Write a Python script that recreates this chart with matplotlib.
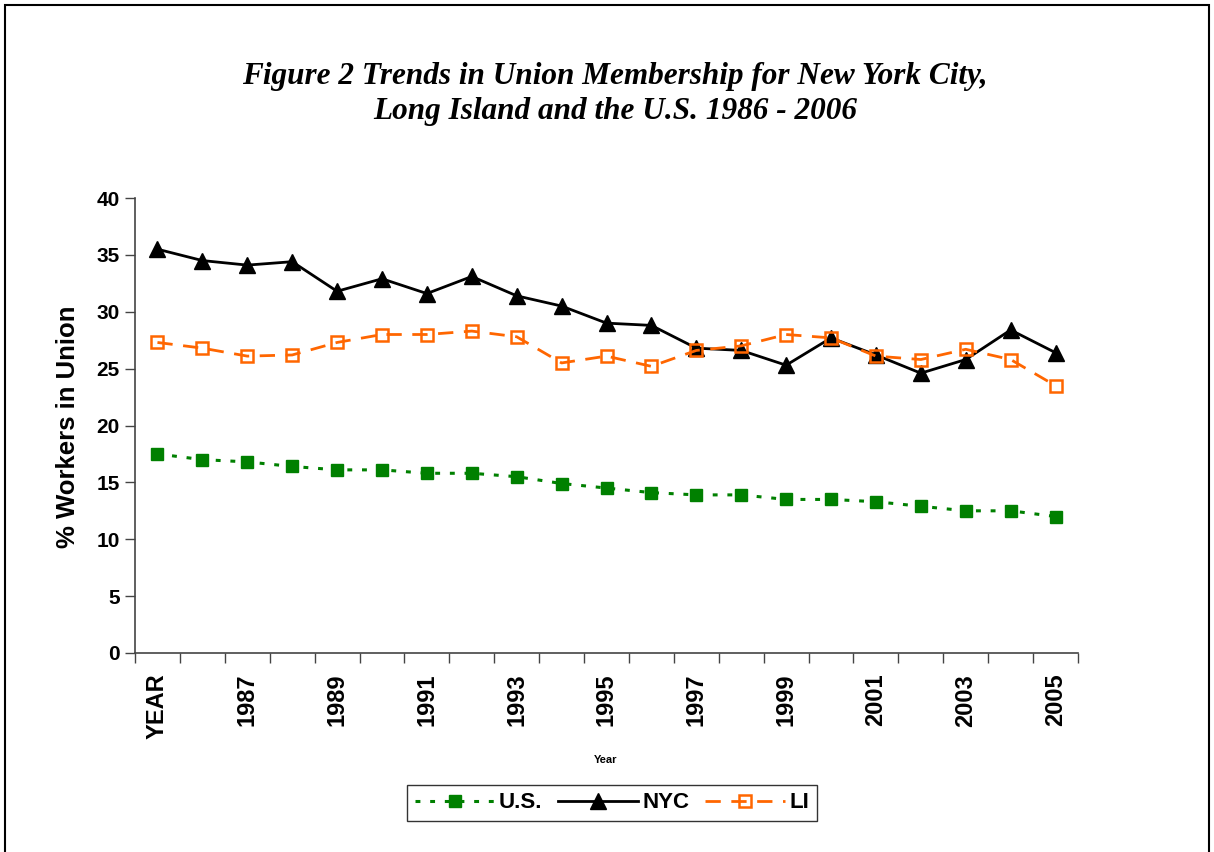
import matplotlib
matplotlib.use("Agg")
import matplotlib.pyplot as plt
from matplotlib.patches import Rectangle

categories = ['YEAR', '1986', '1987', '1988', '1989', '1990', '1991', '1992', '1993', '1994',
              '1995', '1996', '1997', '1998', '1999', '2000', '2001', '2002', '2003', '2004', '2005']
us = [17.5, 17.0, 16.8, 16.4, 16.1, 16.1, 15.8, 15.8, 15.5, 14.9, 14.5,
      14.1, 13.9, 13.9, 13.5, 13.5, 13.3, 12.9, 12.5, 12.5, 12.0]
nyc = [35.5, 34.5, 34.1, 34.4, 31.8, 32.9, 31.6, 33.1, 31.4, 30.5, 29.0,
       28.8, 26.8, 26.6, 25.3, 27.7, 26.2, 24.6, 25.8, 28.4, 26.4]
li = [27.3, 26.8, 26.1, 26.2, 27.3, 28.0, 28.0, 28.3, 27.8, 25.5, 26.1,
      25.2, 26.6, 27.0, 28.0, 27.7, 26.1, 25.8, 26.7, 25.8, 23.5]

title = "Figure 2 Trends in Union Membership for New York City,\nLong Island and the U.S. 1986 - 2006"
sans = ['Liberation Sans', 'DejaVu Sans']

fig = plt.figure(figsize=(12.14, 8.52), dpi=100)
fig.patch.set_facecolor('white')
ax = fig.add_axes([135/1214, 1-653/852, (1078-135)/1214, (653-198)/852])

x = list(range(len(categories)))
ax.plot(x, us, color='#008000', lw=2.2, linestyle=(0, (1.6, 3.2)), marker='s', ms=8.5,
        mfc='#008000', mec='#008000', label='U.S.', zorder=3)
ax.plot(x, nyc, color='black', lw=2.0, linestyle='-', marker='^', ms=11,
        mfc='black', mec='black', label='NYC', zorder=4)
ax.plot(x, li, color='#FF6600', lw=2.0, linestyle=(0, (5.5, 3.8)), marker='s', ms=8.5,
        mfc='none', mec='#FF6600', mew=1.8, label='LI', zorder=5)

ax.set_xlim(-0.5, len(categories) - 0.5)
ax.set_ylim(0, 40)
ax.set_yticks(range(0, 41, 5))
ax.set_yticklabels([str(v) for v in range(0, 41, 5)], fontsize=15, fontweight='bold', family=sans)
ax.tick_params(axis='y', direction='out', length=7, width=1, color='#444444', pad=4)

major = list(range(0, len(categories), 2))
ax.set_xticks(major)
ax.set_xticklabels([categories[i] for i in major], rotation=90, fontsize=17,
                   fontweight='bold', family=sans)
ax.tick_params(axis='x', which='major', length=0, pad=15)
ax.set_xticks([i - 0.5 for i in range(len(categories) + 1)], minor=True)
ax.tick_params(axis='x', which='minor', direction='out', length=7, width=1, color='#444444')

for s in ['top', 'right']:
    ax.spines[s].set_visible(False)
for s in ['left', 'bottom']:
    ax.spines[s].set_color('#444444')
    ax.spines[s].set_linewidth(1.2)

fig.text(615/1214, 1-94/852, title, ha='center', va='center', fontsize=22.5,
         fontweight='bold', fontstyle='italic', family=['Liberation Serif', 'DejaVu Serif'],
         linespacing=1.25)
fig.text(68/1214, 1-427/852, '% Workers in Union', rotation=90, ha='center', va='center',
         fontsize=18.5, fontweight='bold', family=sans)
fig.text(606/1214, 1-760/852, 'Year', ha='center', va='center', fontsize=8,
         fontweight='bold', family=sans)

leg = fig.legend(loc='center', bbox_to_anchor=(612/1214, 1-803/852), ncol=3,
                 frameon=True, fancybox=False, shadow=False, handlelength=3.6,
                 handletextpad=0.2, columnspacing=0.7, borderpad=0.35,
                 prop={'family': sans, 'weight': 'bold', 'size': 16})
leg.get_frame().set_edgecolor('black')
leg.get_frame().set_linewidth(1.0)

fig.patches.append(Rectangle((5/1214, -0.02), (1209-5)/1214, 1.02-5/852,
                             transform=fig.transFigure, fill=False, edgecolor='black',
                             linewidth=1.5))

fig.savefig('out.png', dpi=100, facecolor='white')
